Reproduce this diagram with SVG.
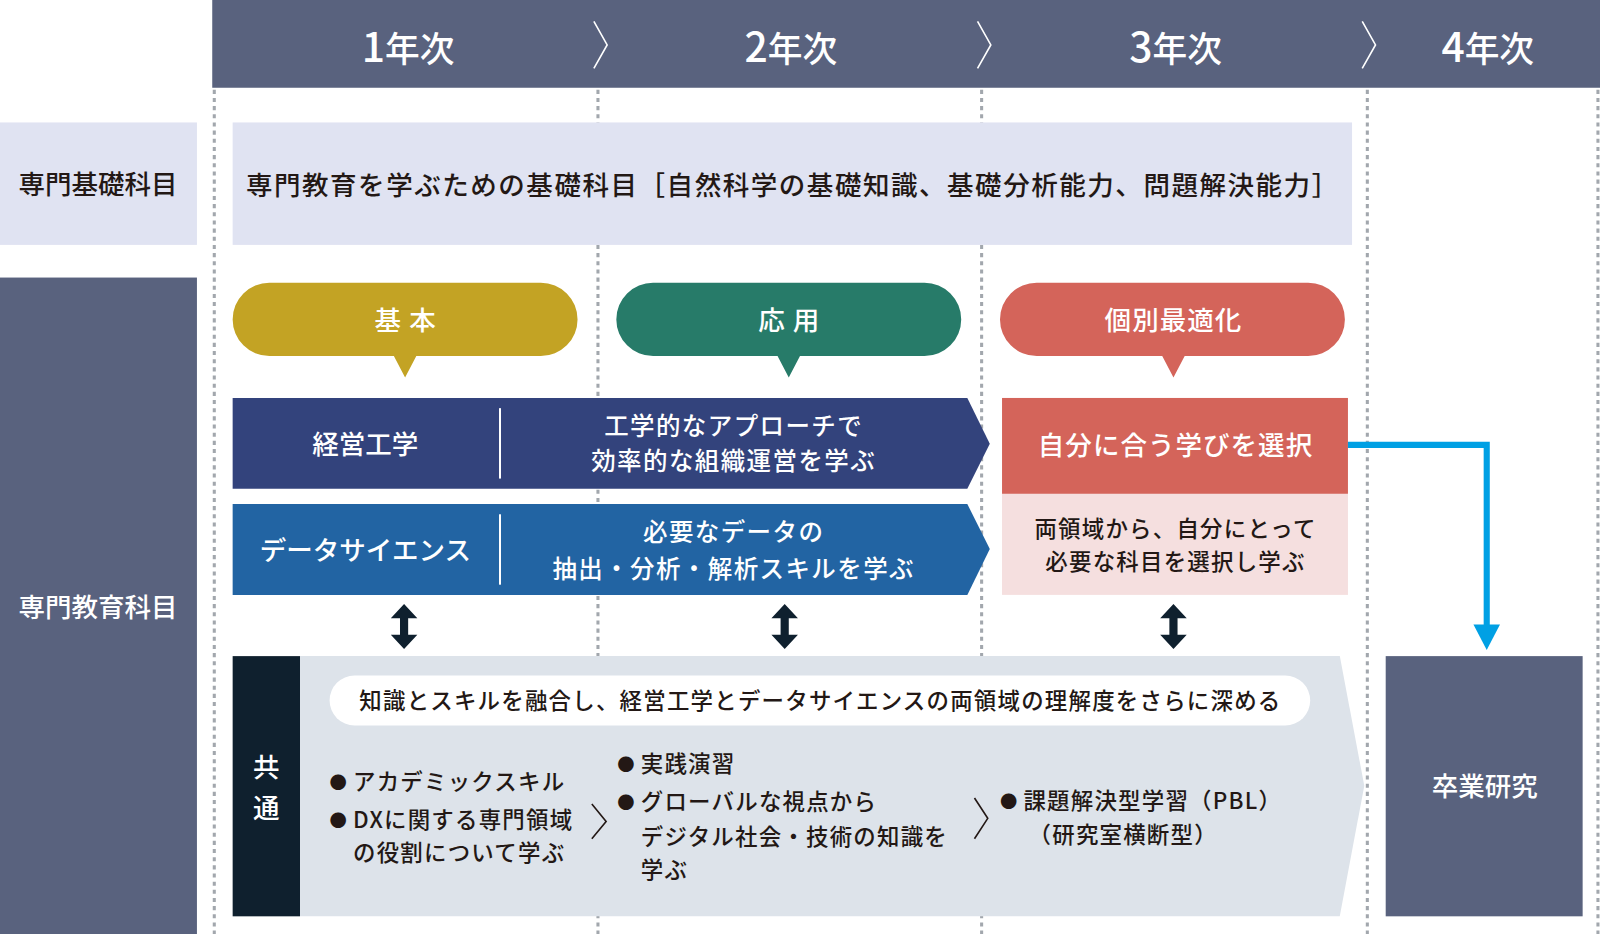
<svg xmlns="http://www.w3.org/2000/svg" width="1600" height="934" viewBox="0 0 1600 934">
<style>
text{font-family:"Noto Sans CJK JP","Noto Sans",sans-serif;}
.w{fill:#ffffff;}
.d{fill:#231815;}
.hd{font-size:34px;font-weight:500;fill:#ffffff;text-anchor:middle;}
.hd .n{font-size:40px;}
.lab{font-size:26px;font-weight:500;text-anchor:middle;}
.t26{font-size:26px;font-weight:500;}
.t24{font-size:24px;font-weight:500;letter-spacing:1.4px;}
.t22{font-size:22px;font-weight:500;letter-spacing:1.2px;}
.c{text-anchor:middle;}
.b{font-size:17px;}
.dot{stroke:#a2a7ad;stroke-width:3;stroke-dasharray:4 4;fill:none;}
.chev{stroke:#ffffff;stroke-width:1.6;fill:none;}
.chevd{stroke:#231815;stroke-width:1.6;fill:none;}
</style>
<defs>
<path id="dbl" d="M0,0 L13,14 L4,14 L4,30 L13,30 L0,44 L-13,30 L-4,30 L-4,14 L-13,14 Z" fill="#0f202e"/>
</defs>
<rect width="1600" height="934" fill="#ffffff"/>
<g transform="scale(1.0204)">
<g id="header">
<rect x="208" y="0" width="1392" height="86" fill="#59627e"/>
<text class="hd" x="400" y="61"><tspan class="n">1</tspan>年次</text>
<text class="hd" x="775" y="61"><tspan class="n">2</tspan>年次</text>
<text class="hd" x="1152" y="61"><tspan class="n">3</tspan>年次</text>
<text class="hd" x="1458" y="61"><tspan class="n">4</tspan>年次</text>
<polyline class="chev" points="582,21 595,44 582,67"/>
<polyline class="chev" points="958,21 971,44 958,67"/>
<polyline class="chev" points="1335,21 1348,44 1335,67"/>
</g>
<g id="gridlines">
<line class="dot" x1="210" y1="88" x2="210" y2="920"/>
<line class="dot" x1="586" y1="88" x2="586" y2="920"/>
<line class="dot" x1="962" y1="88" x2="962" y2="920"/>
<line class="dot" x1="1340" y1="88" x2="1340" y2="920"/>
<line class="dot" x1="1566" y1="88" x2="1566" y2="920"/>
</g>
<g id="label-kiso">
<rect x="0" y="120" width="193" height="120" fill="#e0e3f2"/>
<text class="lab d" x="96" y="190">専門基礎科目</text>
</g>
<g id="label-senmon">
<rect x="0" y="272" width="193" height="650" fill="#59627e"/>
<text class="lab w" x="96" y="605">専門教育科目</text>
</g>
<g id="kiso-box">
<rect x="228" y="120" width="1097" height="120" fill="#e0e3f2"/>
<text class="t26 d" x="241" y="191" style="letter-spacing:1.5px">専門教育を学ぶための基礎科目［自然科学の基礎知識、基礎分析能力、問題解決能力］</text>
</g>
<g id="bubble-kihon">
<path d="M264,277 H530 A36,36 0 0 1 530,349 H408 L397,370 L386,349 H264 A36,36 0 0 1 264,277 Z" fill="#c3a324"/>
<text class="t26 w c" x="401" y="323" style="letter-spacing:8px">基本</text>
</g>
<g id="bubble-ouyou">
<path d="M640,277 H906 A36,36 0 0 1 906,349 H784 L773,370 L762,349 H640 A36,36 0 0 1 640,277 Z" fill="#277b69"/>
<text class="t26 w c" x="777" y="323" style="letter-spacing:8px">応用</text>
</g>
<g id="bubble-kobetsu">
<path d="M1016,277 H1282 A36,36 0 0 1 1282,349 H1161 L1150,370 L1139,349 H1016 A36,36 0 0 1 1016,277 Z" fill="#d4645a"/>
<text class="t26 w c" x="1150" y="323" style="letter-spacing:1px">個別最適化</text>
</g>
<g id="band-keiei">
<polygon points="228,390 948,390 970,435 948,479 228,479" fill="#33437c"/>
<line x1="490" y1="400" x2="490" y2="469" stroke="#ffffff" stroke-width="2"/>
<text class="t26 w c" x="358" y="445">経営工学</text>
<text class="t24 w c" x="719" y="426">工学的なアプローチで</text>
<text class="t24 w c" x="719" y="461">効率的な組織運営を学ぶ</text>
</g>
<g id="band-ds">
<polygon points="228,494 948,494 970,538 948,583 228,583" fill="#2264a3"/>
<line x1="490" y1="504" x2="490" y2="573" stroke="#ffffff" stroke-width="2"/>
<text class="t26 w c" x="358" y="549">データサイエンス</text>
<text class="t24 w c" x="719" y="530">必要なデータの</text>
<text class="t24 w c" x="719" y="566">抽出・分析・解析スキルを学ぶ</text>
</g>
<g id="select-box">
<rect x="982" y="390" width="339" height="94" fill="#d4645a"/>
<text class="t26 w c" x="1152" y="446" style="letter-spacing:1px">自分に合う学びを選択</text>
<rect x="982" y="484" width="339" height="99" fill="#f5dfdf"/>
<text class="t22 d c" x="1152" y="526">両領域から、自分にとって</text>
<text class="t22 d c" x="1152" y="559">必要な科目を選択し学ぶ</text>
</g>
<g id="common-box">
<polygon points="294,643 1313,643 1337,770 1313,898 294,898" fill="#dde3ea"/>
<rect x="228" y="643" width="66" height="255" fill="#0f202e"/>
<text class="t26 w c" x="261" y="761">共</text>
<text class="t26 w c" x="261" y="802">通</text>
<rect x="323" y="662" width="961" height="49" rx="24.5" fill="#ffffff"/>
<text class="t22 d c" x="804" y="695">知識とスキルを融合し、経営工学とデータサイエンスの両領域の理解度をさらに深める</text>
<text class="t22 d" x="323" y="774"><tspan class="b" dy="-1">●</tspan><tspan x="346" dy="1">アカデミックスキル</tspan></text>
<text class="t22 d" x="323" y="811"><tspan class="b" dy="-1">●</tspan><tspan x="346" dy="1">DXに関する専門領域</tspan></text>
<text class="t22 d" x="346" y="844">の役割について学ぶ</text>
<polyline class="chevd" points="580,788 594,805 580,822"/>
<text class="t22 d" x="605" y="757"><tspan class="b" dy="-1">●</tspan><tspan x="628" dy="1">実践演習</tspan></text>
<text class="t22 d" x="605" y="794"><tspan class="b" dy="-1">●</tspan><tspan x="628" dy="1">グローバルな視点から</tspan></text>
<text class="t22 d" x="628" y="828">デジタル社会・技術の知識を</text>
<text class="t22 d" x="628" y="860">学ぶ</text>
<polyline class="chevd" points="955,782 968,802 955,822"/>
<text class="t22 d" x="980" y="793"><tspan class="b" dy="-1">●</tspan><tspan x="1003" dy="1">課題解決型学習（PBL）</tspan></text>
<text class="t22 d" x="1008" y="826">（研究室横断型）</text>
</g>
<g id="sotsuken">
<rect x="1358" y="643" width="193" height="255" fill="#59627e"/>
<text class="t26 w c" x="1455" y="780">卒業研究</text>
</g>
<g id="connectors">
<use href="#dbl" x="396" y="592"/>
<use href="#dbl" x="769" y="592"/>
<use href="#dbl" x="1150" y="592"/>
<polyline points="1321,436 1457,436 1457,614" fill="none" stroke="#00a0e4" stroke-width="6"/>
<polygon points="1444,612 1470,612 1457,637" fill="#00a0e4"/>
</g>
</g>
</svg>
